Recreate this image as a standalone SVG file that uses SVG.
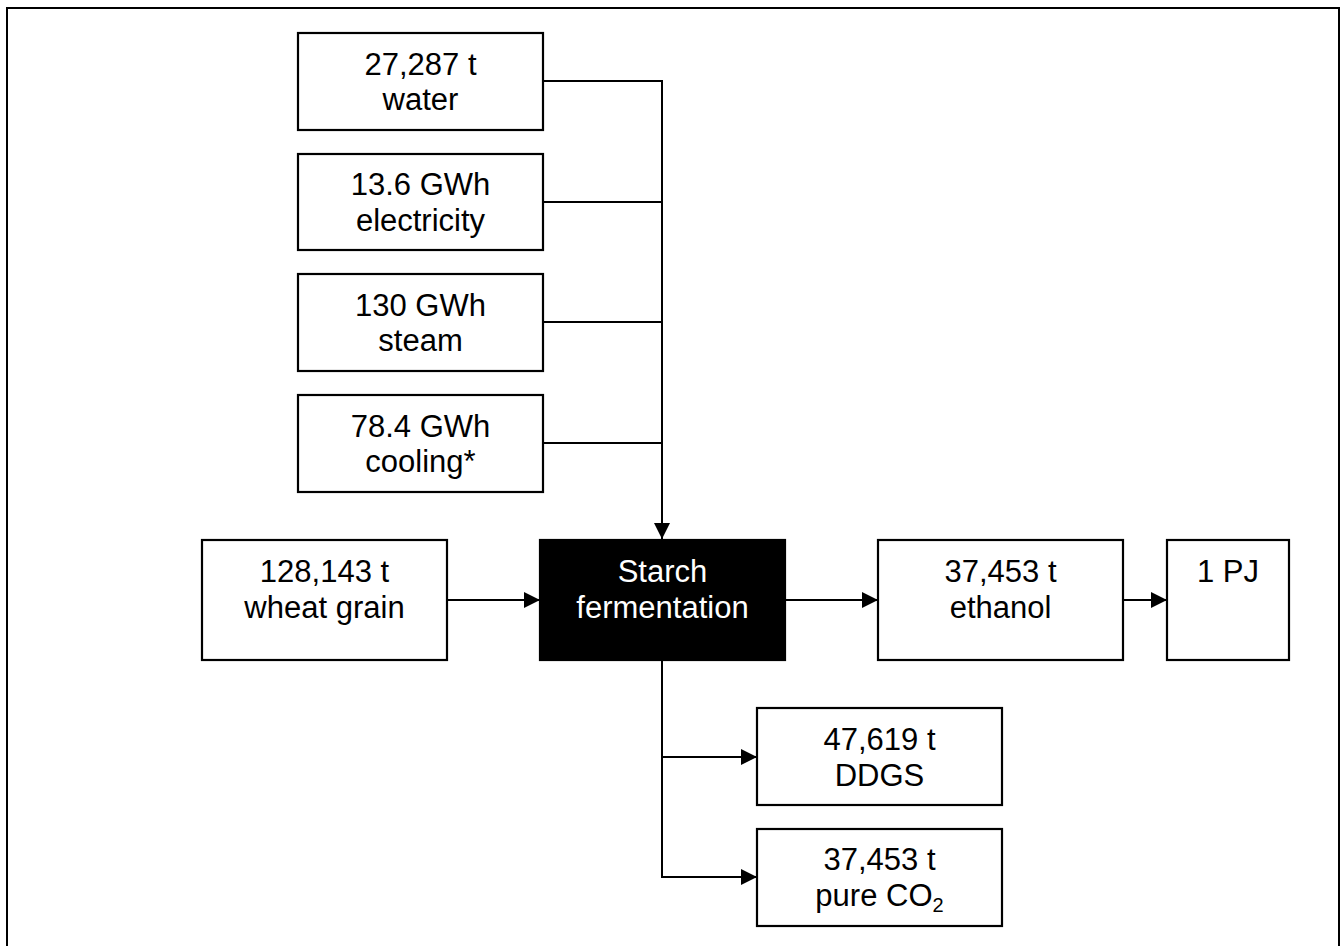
<svg xmlns="http://www.w3.org/2000/svg" width="1340" height="946" viewBox="0 0 1340 946">
  <style>
    .box { fill: #ffffff; stroke: #000000; stroke-width: 2.2; }
    .proc { fill: #000000; stroke: #000000; stroke-width: 2.2; }
    .lbl { font-family: "Liberation Sans", Arial, sans-serif; font-size: 31px; fill: #000000; text-anchor: middle; }
    .lbl-w { font-family: "Liberation Sans", Arial, sans-serif; font-size: 31px; fill: #ffffff; text-anchor: middle; }
    .link { fill: none; stroke: #000000; stroke-width: 2; }
  </style>
  <defs>
    <marker id="arrow" markerUnits="userSpaceOnUse" markerWidth="17" markerHeight="16" refX="16" refY="8" orient="auto">
      <path d="M0,0 L16,8 L0,16 Z" fill="#000000"/>
    </marker>
  </defs>

  <rect x="0" y="0" width="1340" height="946" fill="#ffffff"/>
  <!-- frame -->
  <rect x="7" y="8" width="1332" height="950" fill="none" stroke="#000000" stroke-width="2"/>

  <!-- connectors -->
  <g id="connectors">
    <path class="link" d="M543,81 H662 V539" marker-end="url(#arrow)"/>
    <path class="link" d="M543,202 H662 V443"/>
    <path class="link" d="M543,322 H662"/>
    <path class="link" d="M543,443 H662 V539"/>
    <path class="link" d="M447,600 H540" marker-end="url(#arrow)"/>
    <path class="link" d="M785,600 H878" marker-end="url(#arrow)"/>
    <path class="link" d="M1123,600 H1167" marker-end="url(#arrow)"/>
    <path class="link" d="M662,660 V877 H757" marker-end="url(#arrow)"/>
    <path class="link" d="M662,757 H757" marker-end="url(#arrow)"/>
  </g>

  <!-- inputs -->
  <g id="water">
    <rect class="box" x="298" y="33" width="245" height="97"/>
    <text class="lbl" x="420.5" y="74.5">27,287 t</text>
    <text class="lbl" x="420.5" y="110">water</text>
  </g>
  <g id="electricity">
    <rect class="box" x="298" y="154" width="245" height="96"/>
    <text class="lbl" x="420.5" y="195">13.6 GWh</text>
    <text class="lbl" x="420.5" y="230.5">electricity</text>
  </g>
  <g id="steam">
    <rect class="box" x="298" y="274" width="245" height="97"/>
    <text class="lbl" x="420.5" y="315.5">130 GWh</text>
    <text class="lbl" x="420.5" y="351">steam</text>
  </g>
  <g id="cooling">
    <rect class="box" x="298" y="395" width="245" height="97"/>
    <text class="lbl" x="420.5" y="436.5">78.4 GWh</text>
    <text class="lbl" x="420.5" y="472">cooling*</text>
  </g>
  <g id="wheat">
    <rect class="box" x="202" y="540" width="245" height="120"/>
    <text class="lbl" x="324.5" y="582">128,143 t</text>
    <text class="lbl" x="324.5" y="617.5">wheat grain</text>
  </g>

  <!-- process -->
  <g id="fermentation">
    <rect class="proc" x="540" y="540" width="245" height="120"/>
    <text class="lbl-w" x="662.5" y="582">Starch</text>
    <text class="lbl-w" x="662.5" y="617.5">fermentation</text>
  </g>

  <!-- outputs -->
  <g id="ethanol">
    <rect class="box" x="878" y="540" width="245" height="120"/>
    <text class="lbl" x="1000.5" y="582">37,453 t</text>
    <text class="lbl" x="1000.5" y="617.5">ethanol</text>
  </g>
  <g id="energy">
    <rect class="box" x="1167" y="540" width="122" height="120"/>
    <text class="lbl" x="1228" y="582">1 PJ</text>
  </g>
  <g id="ddgs">
    <rect class="box" x="757" y="708" width="245" height="97"/>
    <text class="lbl" x="879.5" y="750">47,619 t</text>
    <text class="lbl" x="879.5" y="785.5">DDGS</text>
  </g>
  <g id="co2">
    <rect class="box" x="757" y="829" width="245" height="97"/>
    <text class="lbl" x="879.5" y="870">37,453 t</text>
    <text class="lbl" x="879.5" y="905.5">pure CO<tspan font-size="20" dy="6">2</tspan></text>
  </g>
</svg>
